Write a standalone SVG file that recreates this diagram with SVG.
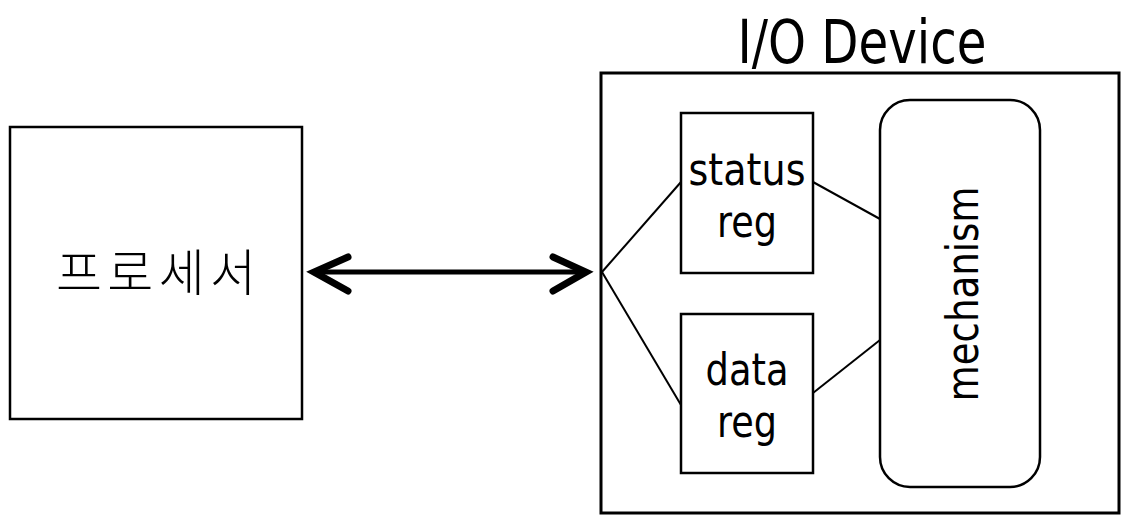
<svg xmlns="http://www.w3.org/2000/svg" width="1127" height="526" viewBox="0 0 1127 526">
<style>
.box{fill:#fff;stroke:#000;stroke-width:2.5}
.lbl{font-family:"DejaVu Sans",sans-serif;font-size:45px;fill:#000;text-anchor:middle}
.conn{stroke:#000;stroke-width:2;fill:none}
</style>
<rect width="1127" height="526" fill="#fff"/>
<g id="processor">
<rect class="box" x="10" y="127" width="292" height="292"/>
<text x="156" y="291" font-family="'Noto Sans CJK KR',sans-serif" font-size="50" font-weight="300" text-anchor="middle" textLength="200" lengthAdjust="spacing">프로세서</text>
</g>
<g id="io-device">
<rect x="601" y="73" width="518" height="440" fill="#fff" stroke="#000" stroke-width="3"/>
<text class="lbl" x="862" y="63" style="font-size:61px" textLength="249" lengthAdjust="spacingAndGlyphs">I/O Device</text>
</g>
<g id="status-reg">
<rect class="box" x="681" y="113" width="132" height="160" stroke-width="2"/>
<text class="lbl" x="747" y="185" textLength="117" lengthAdjust="spacingAndGlyphs">status</text>
<text class="lbl" x="747" y="237" textLength="60" lengthAdjust="spacingAndGlyphs">reg</text>
</g>
<g id="data-reg">
<rect class="box" x="681" y="314" width="132" height="159" stroke-width="2"/>
<text class="lbl" x="747" y="385" textLength="83" lengthAdjust="spacingAndGlyphs">data</text>
<text class="lbl" x="747" y="437" textLength="60" lengthAdjust="spacingAndGlyphs">reg</text>
</g>
<g id="mechanism">
<rect class="box" x="880" y="100" width="160" height="387" rx="30" ry="30" stroke-width="2"/>
<text class="lbl" transform="translate(978,294) rotate(-90)" x="0" y="0" textLength="215" lengthAdjust="spacingAndGlyphs">mechanism</text>
</g>
<g id="connectors">
<line x1="318" y1="272" x2="582" y2="272" stroke="#000" stroke-width="5"/>
<polyline points="348,257 314,272 348,291" fill="none" stroke="#000" stroke-width="7" stroke-linecap="round" stroke-linejoin="miter"/>
<polyline points="553,257 586,272 553,291" fill="none" stroke="#000" stroke-width="7" stroke-linecap="round" stroke-linejoin="miter"/>
<line class="conn" x1="602" y1="272" x2="681" y2="182"/>
<line class="conn" x1="602" y1="272" x2="681" y2="405"/>
<line class="conn" x1="813" y1="182" x2="880" y2="219"/>
<line class="conn" x1="813" y1="393" x2="880" y2="340"/>
</g>
</svg>
